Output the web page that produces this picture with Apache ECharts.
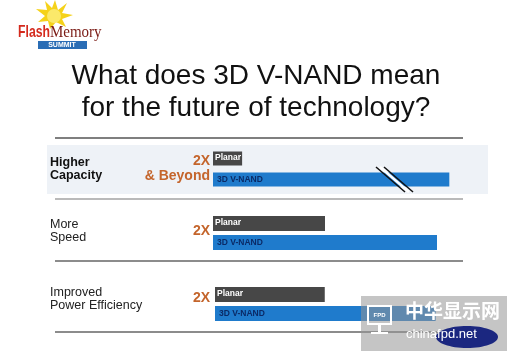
<!DOCTYPE html>
<html><head><meta charset="utf-8">
<script src="https://cdn.jsdelivr.net/npm/echarts@6/dist/echarts.min.js"></script>
<style>html,body{margin:0;padding:0;background:#fff}#c{width:512px;height:356px}</style>
</head><body><div id="c"></div>
<script>
// Data (relative units: Planar speed = 1)
var rows = ['Planar', '3D V-NAND'];
var capacity = [0.26, 2.11];
var speed = [1.0, 2.0];
var power = [0.98, 1.97];
var sectionLabels = ['Higher\nCapacity', 'More\nSpeed', 'Improved\nPower Efficiency'];

var chart = echarts.init(document.getElementById('c'), null, {renderer: 'canvas'});
var F = 'Liberation Sans, Arial, sans-serif';
var grids = [
  {left: 213, width: 280, top: 148, height: 42},
  {left: 213, width: 280, top: 214, height: 38},
  {left: 215, width: 280, top: 285, height: 38}
];
var datasets = [capacity, speed, power];
var xAxes = [], yAxes = [], series = [];
grids.forEach(function (g, i) {
  xAxes.push({gridIndex: i, type: 'value', min: 0, max: 2.5, show: false});
  yAxes.push({gridIndex: i, type: 'category', data: rows, inverse: true, show: false});
  series.push({
    type: 'bar', xAxisIndex: i, yAxisIndex: i, barWidth: i === 0 ? 14 : 15,
    data: datasets[i].map(function (v, k) {
      return {
        value: v,
        itemStyle: {color: k === 0 ? '#474747' : '#1f7bcc'},
        label: {
          show: true, formatter: rows[k],
          position: k === 0 ? 'insideTopLeft' : 'insideLeft',
          distance: k === 0 ? 2 : 4,
          color: k === 0 ? '#ffffff' : '#0b2a66',
          fontSize: 8.5, fontWeight: 'bold', fontFamily: F
        }
      };
    })
  });
});

var graphics = [
  // capacity background band
  {type: 'rect', z: -10, shape: {x: 47, y: 145, width: 441, height: 49}, style: {fill: '#eef2f7'}},
  // separators
  {type: 'line', shape: {x1: 55, y1: 138, x2: 463, y2: 138}, style: {stroke: '#555', lineWidth: 1.5}},
  {type: 'line', shape: {x1: 55, y1: 199, x2: 463, y2: 199}, style: {stroke: '#777', lineWidth: 1.2}},
  {type: 'line', shape: {x1: 55, y1: 261, x2: 463, y2: 261}, style: {stroke: '#666', lineWidth: 1.5}},
  {type: 'line', shape: {x1: 55, y1: 332, x2: 463, y2: 332}, style: {stroke: '#666', lineWidth: 1.5}},
  // break marks
  {type: 'line', z: 20, shape: {x1: 376, y1: 167, x2: 405, y2: 192}, style: {stroke: '#111', lineWidth: 1.5}},
  {type: 'line', z: 20, shape: {x1: 380, y1: 167, x2: 409, y2: 192}, style: {stroke: '#fff', lineWidth: 2.5}},
  {type: 'line', z: 20, shape: {x1: 384, y1: 167, x2: 413, y2: 192}, style: {stroke: '#111', lineWidth: 1.5}},
  // title
  {type: 'text', left: 'center', top: 62, style: {text: 'What does 3D V-NAND mean', font: '28px ' + F, fill: '#111', textAlign: 'center'}},
  {type: 'text', left: 'center', top: 94, style: {text: 'for the future of technology?', font: '28px ' + F, fill: '#111', textAlign: 'center'}},
  // section labels
  {type: 'text', left: 50, top: 156, style: {text: sectionLabels[0], font: 'bold 12.5px ' + F, fill: '#111', lineHeight: 13}},
  {type: 'text', left: 50, top: 218, style: {text: sectionLabels[1], font: '12.5px ' + F, fill: '#222', lineHeight: 13}},
  {type: 'text', left: 50, top: 286, style: {text: sectionLabels[2], font: '12.5px ' + F, fill: '#222', lineHeight: 13}},
  // 2X labels
  {type: 'text', x: 210, y: 154, style: {text: '2X', font: 'bold 14px ' + F, fill: '#c4652c', textAlign: 'right'}},
  {type: 'text', x: 210, y: 169, style: {text: '& Beyond', font: 'bold 14px ' + F, fill: '#c4652c', textAlign: 'right'}},
  {type: 'text', x: 210, y: 224, style: {text: '2X', font: 'bold 14px ' + F, fill: '#c4652c', textAlign: 'right'}},
  {type: 'text', x: 210, y: 291, style: {text: '2X', font: 'bold 14px ' + F, fill: '#c4652c', textAlign: 'right'}},
  // logo
  {type: 'polygon', shape: {points: [[55,0],[58,10],[67,3],[62,13],[73,15],[62,19],[66,27],[56,22],[50,29],[48,21],[38,22],[45,16],[36,9],[47,10],[45,1],[52,8]]}, style: {fill: '#f5d21a'}},
  {type: 'circle', shape: {cx: 54, cy: 16, r: 7}, style: {fill: '#fbe96a'}},
  {type: 'text', x: 18, y: 24, scaleX: 0.72, style: {text: 'Flash', font: 'bold 17px ' + F, fill: '#d42a1d'}},
  {type: 'text', x: 50, y: 24, scaleX: 0.88, style: {text: 'Memory', font: '17px Liberation Serif, serif', fill: '#7a1a14'}},
  {type: 'rect', shape: {x: 38, y: 41, width: 49, height: 8}, style: {fill: '#2a6db5'}},
  {type: 'text', x: 62, y: 41.5, style: {text: 'SUMMIT', font: 'bold 7px ' + F, fill: '#fff', textAlign: 'center'}},
  // watermark
  {type: 'rect', z: 31, shape: {x: 361, y: 296, width: 146, height: 55}, style: {fill: 'rgba(150,150,150,0.55)'}},
  {type: 'ellipse', z: 31, shape: {cx: 467, cy: 337, rx: 31, ry: 11}, style: {fill: '#1b2780'}},
  {type: 'rect', z: 32, shape: {x: 368, y: 306, width: 23, height: 18}, style: {fill: 'none', stroke: '#fff', lineWidth: 2}},
  {type: 'rect', z: 32, shape: {x: 378, y: 324, width: 3, height: 8}, style: {fill: '#fff'}},
  {type: 'rect', z: 32, shape: {x: 371, y: 332, width: 17, height: 2}, style: {fill: '#fff'}},
  {type: 'text', z: 32, x: 379.5, y: 312, style: {text: 'FPD', font: 'bold 6px ' + F, fill: '#fff', textAlign: 'center'}},
  {type: 'text', z: 32, x: 405, y: 301, style: {text: '中华显示网', font: 'bold 19px Noto Sans CJK SC, sans-serif', fill: '#fff'}},
  {type: 'text', z: 32, x: 406, y: 328, style: {text: 'chinafpd.net', font: '13px ' + F, fill: '#fff'}}
];

chart.setOption({
  backgroundColor: '#ffffff',
  animation: false,
  grid: grids,
  xAxis: xAxes,
  yAxis: yAxes,
  series: series,
  graphic: graphics
});
</script></body></html>
